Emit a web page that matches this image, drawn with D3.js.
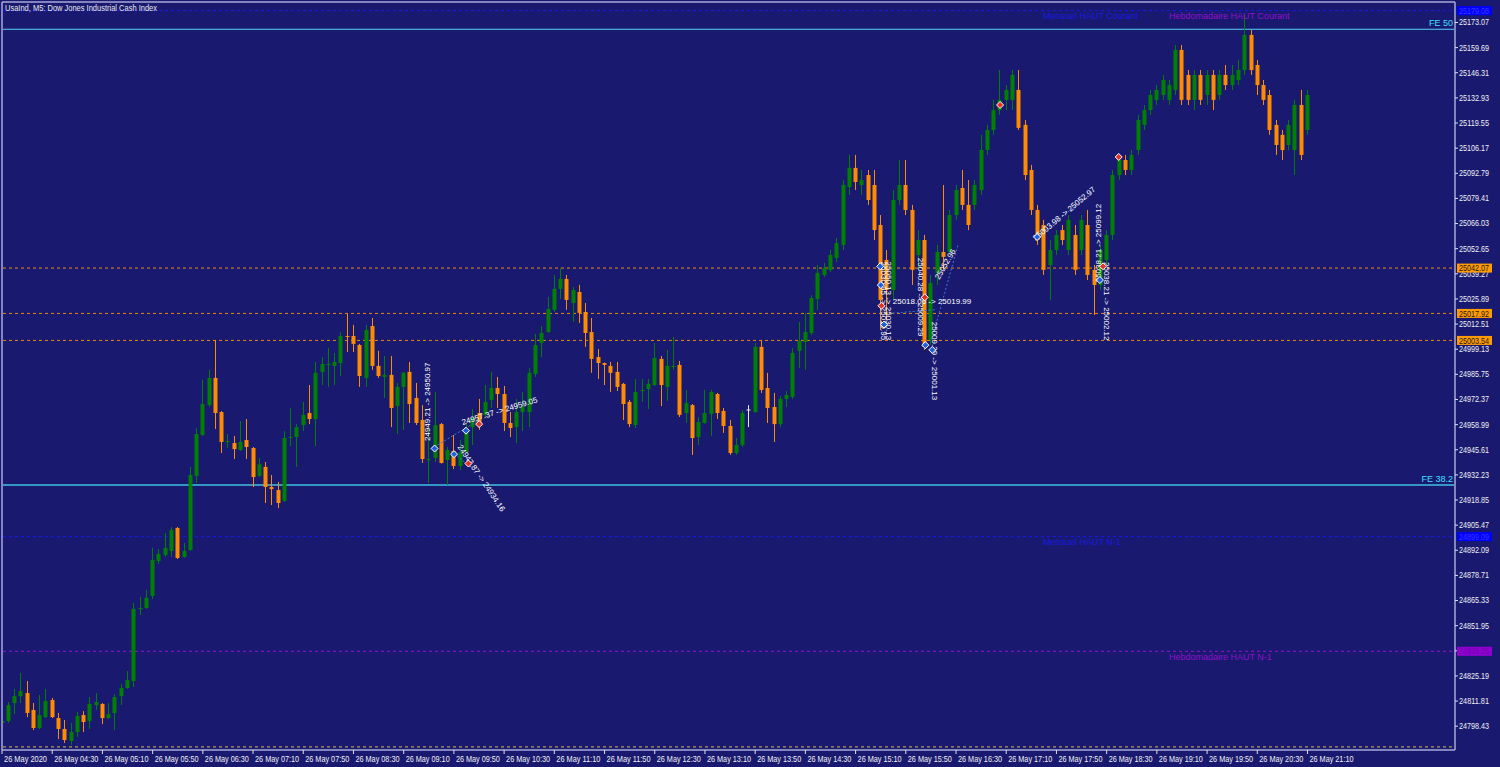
<!DOCTYPE html>
<html><head><meta charset="utf-8">
<script src="https://cdn.jsdelivr.net/npm/d3@7"></script>
<style>html,body{margin:0;padding:0;background:#191970;overflow:hidden}</style>
</head><body><svg id="c" width="1500" height="767"></svg>
<script>
// ---------- DATA ----------
const title = "UsaInd, M5:  Dow Jones Industrial Cash Index";
const xTickBars = [0,8,16,24,32,40,48,56,64,72,80,88,96,104,112,120,128,136,144,152,160,168,176,184,192,200,208];
const xTickLabels = ["26 May 2020","26 May 04:30","26 May 05:10","26 May 05:50","26 May 06:30","26 May 07:10","26 May 07:50","26 May 08:30","26 May 09:10","26 May 09:50","26 May 10:30","26 May 11:10","26 May 11:50","26 May 12:30","26 May 13:10","26 May 13:50","26 May 14:30","26 May 15:10","26 May 15:50","26 May 16:30","26 May 17:10","26 May 17:50","26 May 18:30","26 May 19:10","26 May 19:50","26 May 20:30","26 May 21:10"];
const yTickLabels = ["24798.43","24811.81","24825.19","24838.57","24851.95","24865.33","24878.71","24892.09","24905.47","24918.85","24932.23","24945.61","24958.99","24972.37","24985.75","24999.13","25012.51","25025.89","25039.27","25052.65","25066.03","25079.41","25092.79","25106.17","25119.55","25132.93","25146.31","25159.69","25173.07"];

const candles = [
[24799.9,24802.5,24798.8,24800.9],[24800.9,24811.0,24799.9,24809.4],[24810.5,24818.0,24804.6,24814.2],[24814.2,24826.5,24810.5,24816.9],
[24815.8,24822.2,24803.0,24805.2],[24806.8,24810.5,24796.1,24797.2],[24797.2,24814.8,24796.6,24804.1],[24803.0,24818.0,24802.5,24811.6],
[24812.1,24813.2,24802.5,24803.0],[24802.5,24805.2,24791.3,24796.7],[24796.7,24801.5,24789.2,24790.8],[24790.3,24799.9,24788.1,24795.1],
[24795.1,24805.7,24792.4,24803.6],[24804.1,24806.2,24795.1,24800.4],[24800.9,24813.7,24796.7,24810.0],[24809.4,24815.8,24806.8,24811.0],
[24810.0,24810.5,24799.3,24802.5],[24802.5,24810.5,24802.0,24804.6],[24805.2,24815.3,24796.1,24813.7],[24814.2,24820.6,24809.4,24818.5],
[24818.5,24827.5,24818.0,24822.7],[24822.2,24863.8,24819.0,24860.6],[24860.6,24867.0,24857.4,24861.1],[24861.1,24870.7,24860.6,24866.5],
[24867.5,24893.1,24865.9,24886.7],[24886.1,24892.5,24884.5,24889.9],[24889.3,24901.0,24888.3,24893.1],[24891.5,24904.2,24888.3,24902.7],
[24903.7,24904.2,24887.2,24887.7],[24888.3,24895.7,24887.8,24891.5],[24892.0,24936.2,24891.5,24931.9],[24931.4,24956.9,24927.6,24953.7],
[24953.2,24982.5,24952.6,24969.7],[24969.1,24987.9,24968.1,24983.6],[24983.6,25003.8,24956.4,24964.9],[24965.4,24965.9,24943.6,24949.5],
[24949.5,24953.7,24946.3,24950.0],[24948.9,24952.7,24940.4,24945.7],[24945.2,24960.6,24944.7,24949.5],[24950.5,24961.7,24940.4,24946.8],
[24946.3,24946.8,24925.5,24930.8],[24931.4,24941.0,24930.8,24937.6],[24936.2,24938.8,24917.0,24925.5],[24925.5,24931.9,24915.9,24924.4],
[24923.9,24928.2,24914.3,24917.0],[24918.1,24955.3,24917.6,24951.6],[24951.6,24967.6,24947.3,24952.1],[24952.1,24959.0,24936.2,24957.4],
[24958.5,24970.8,24955.3,24963.9],[24964.9,24979.8,24959.0,24961.7],[24961.7,24992.1,24947.2,24986.3],[24986.8,24994.7,24979.8,24991.0],
[24990.5,24999.5,24978.8,24991.0],[24990.0,24996.9,24979.8,24992.1],[24991.5,25008.0,24984.6,25005.9],[25005.9,25017.6,24997.4,25005.4],
[25005.9,25011.8,24997.4,25001.7],[25001.1,25001.7,24978.8,24984.6],[24983.6,25011.8,24978.8,25009.1],[25011.2,25015.5,24987.9,24990.0],
[24990.0,24998.0,24983.6,24984.6],[24984.1,24995.3,24972.9,24985.2],[24985.2,24995.3,24957.4,24967.6],[24968.6,24980.9,24953.7,24978.8],
[24978.8,24986.8,24955.9,24986.3],[24986.8,24992.1,24959.6,24969.7],[24972.9,24980.9,24958.5,24959.6],[24961.2,24969.1,24938.3,24940.4],
[24939.9,24957.4,24927.6,24940.4],[24941.0,24976.1,24938.8,24958.5],[24959.0,24959.6,24938.0,24938.3],[24939.9,24946.8,24926.6,24945.2],
[24944.7,24953.2,24935.1,24936.7],[24936.7,24950.5,24934.6,24944.1],[24944.1,24959.6,24943.6,24954.8],[24957.4,24967.0,24947.9,24962.2],
[24964.9,24972.4,24955.9,24959.6],[24963.9,24979.8,24962.2,24970.8],[24971.8,24986.8,24967.6,24978.2],[24978.2,24984.1,24967.6,24975.0],
[24975.0,24979.3,24955.3,24959.6],[24959.6,24965.4,24952.1,24956.9],[24957.4,24972.4,24948.9,24965.4],[24965.4,24976.1,24955.3,24968.1],
[24965.4,24988.9,24957.4,24986.3],[24985.7,25007.0,24984.1,25001.1],[25002.2,25011.2,24994.7,25007.5],[25008.0,25026.7,25007.5,25020.3],
[25019.8,25038.4,25018.7,25031.0],[25031.0,25042.1,25025.6,25036.3],[25036.3,25038.4,25019.8,25025.1],[25023.5,25032.0,25013.4,25030.4],
[25029.3,25033.1,25012.8,25018.2],[25018.7,25023.5,25000.1,25007.5],[25008.0,25015.5,24986.3,24993.7],[24994.7,24999.0,24983.0,24991.5],
[24991.5,24991.8,24979.8,24990.5],[24990.0,24992.1,24976.1,24986.3],[24986.8,24992.1,24976.6,24978.8],[24980.4,24980.9,24961.2,24969.7],
[24970.8,24971.8,24957.4,24959.0],[24958.5,24983.0,24956.9,24976.1],[24976.6,24983.0,24970.8,24977.2],[24977.7,24983.0,24967.0,24980.4],
[24979.8,25002.2,24979.3,24994.2],[24993.7,24995.3,24968.6,24979.8],[24978.8,24998.5,24971.3,24990.0],[24989.4,25005.4,24987.9,24990.0],
[24990.5,24992.6,24962.8,24963.9],[24964.9,24977.2,24959.6,24970.2],[24969.1,24969.7,24942.6,24951.6],[24952.1,24962.8,24947.9,24960.1],
[24959.6,24977.2,24959.2,24964.9],[24964.4,24977.2,24952.7,24976.1],[24975.0,24975.6,24961.7,24964.9],[24966.0,24967.6,24954.3,24958.0],
[24958.0,24961.2,24942.6,24943.6],[24943.6,24951.6,24942.6,24947.9],[24947.9,24966.5,24946.8,24964.9],[24966.5,24969.1,24957.4,24966.5],
[24965.4,25002.2,24965.0,25000.1],[25000.1,25003.8,24975.6,24977.2],[24978.2,24986.3,24959.6,24967.6],[24968.1,24975.6,24949.5,24959.0],
[24959.0,24974.0,24957.4,24972.4],[24972.4,24976.6,24968.1,24974.5],[24973.5,24999.5,24972.4,24996.9],[24998.0,25013.4,24988.9,25003.3],
[25002.7,25018.2,24987.9,25008.0],[25007.5,25027.7,25006.4,25026.1],[25025.6,25043.7,25019.8,25039.5],[25038.4,25044.8,25037.3,25042.1],
[25041.1,25051.7,25040.0,25049.0],[25047.4,25058.1,25045.3,25055.4],[25054.4,25089.0,25051.7,25086.3],[25085.2,25102.3,25081.0,25095.4],
[25095.4,25102.3,25083.6,25087.9],[25086.3,25094.3,25081.0,25088.9],[25091.6,25094.3,25075.7,25078.3],[25086.3,25094.3,25057.0,25062.3],
[25065.0,25070.3,25009.1,25025.1],[25046.4,25051.7,25014.4,25030.4],[25030.4,25083.6,25025.1,25078.3],[25078.3,25099.6,25075.7,25086.3],
[25086.3,25099.6,25070.3,25073.0],[25073.0,25075.7,25033.1,25041.1],[25049.0,25062.3,25041.1,25057.0],[25057.0,25059.7,24998.5,25000.1],
[25003.8,25038.4,25001.1,25034.1],[25039.5,25054.4,25033.1,25050.6],[25050.6,25086.3,25041.1,25048.0],[25050.6,25073.0,25049.0,25070.3],
[25070.3,25086.3,25067.7,25083.6],[25084.7,25094.3,25073.0,25075.7],[25075.7,25088.9,25062.3,25065.0],[25075.7,25088.9,25073.0,25086.3],
[25083.6,25113.0,25081.0,25104.9],[25104.9,25118.3,25102.3,25115.6],[25115.6,25131.6,25113.0,25126.2],[25126.2,25147.5,25123.6,25131.6],
[25131.6,25139.5,25126.2,25136.9],[25131.6,25147.5,25126.2,25144.9],[25136.9,25147.5,25115.6,25116.7],[25118.3,25120.9,25088.9,25091.6],
[25094.3,25097.0,25070.3,25073.0],[25073.0,25075.7,25054.4,25057.0],[25065.0,25067.7,25038.4,25041.1],[25043.7,25057.0,25025.1,25051.7],
[25051.7,25062.3,25049.0,25059.7],[25062.3,25065.0,25054.4,25057.0],[25051.7,25070.3,25049.0,25067.7],[25059.7,25065.0,25038.4,25041.1],
[25051.7,25070.3,25049.0,25067.7],[25065.0,25073.0,25035.7,25038.4],[25041.1,25043.7,25017.1,25033.1],[25033.1,25054.4,25030.4,25051.7],
[25046.4,25062.3,25043.7,25059.7],[25059.7,25094.3,25057.0,25091.6],[25091.6,25102.3,25088.9,25099.6],[25099.6,25102.3,25091.6,25094.3],
[25094.3,25104.9,25091.6,25102.3],[25104.9,25123.6,25102.3,25120.9],[25118.3,25128.9,25115.6,25126.2],[25126.2,25136.9,25123.6,25134.2],
[25131.6,25139.5,25128.9,25136.9],[25134.2,25144.9,25131.6,25142.2],[25131.6,25142.2,25128.9,25139.5],[25136.9,25160.8,25134.2,25158.2],
[25158.2,25160.8,25128.9,25131.6],[25144.9,25147.5,25128.9,25131.6],[25131.6,25147.5,25126.2,25144.9],[25144.9,25147.5,25128.9,25131.6],
[25134.2,25147.5,25128.9,25144.9],[25144.9,25147.5,25126.2,25131.6],[25134.2,25147.5,25131.6,25144.9],[25144.9,25150.2,25136.9,25139.5],
[25139.5,25150.2,25136.9,25144.9],[25142.2,25152.8,25139.5,25147.5],[25147.5,25176.8,25144.9,25166.2],[25166.2,25168.8,25144.9,25147.5],
[25150.2,25152.8,25134.2,25139.5],[25139.5,25142.2,25128.9,25131.6],[25134.2,25136.9,25113.0,25115.6],[25118.3,25120.9,25102.3,25107.6],
[25113.0,25115.6,25099.6,25104.9],[25107.6,25120.9,25104.9,25118.3],[25104.9,25131.6,25091.6,25128.9],[25128.9,25136.9,25099.6,25102.3],
[25115.6,25136.9,25113.0,25134.2]
];

// horizontal levels
const levelPrices = {mensuelCourant:25179.08, fe50:25169.2, orange:[25042.07,25017.92,25003.54], fe382:24926.6, mensuelN1:24899.09, hebdoN1:24838.05, bottom:24787.2};

// trade annotations: [text, bar, price, angle]
const tradeTexts = [
 ["24949.21 -> 24950.97", 68.3, 24950.0, -90],
 ["24947.87 -> 24934.16", 72.6, 24946.8, 56],
 ["24957.37 -> 24959.05", 73.5, 24958.5, -17],
 ["25030.95 -> 25019.95", 140.2, 25045.5, 90],
 ["25050.13 -> 25030.13", 141.0, 25045.5, 90],
 ["25018.06 -> 25019.99", 142.0, 25023.0, 0],
 ["25040.28 -> 25009.29", 146.1, 25047.5, 90],
 ["25009.29 -> 25001.13", 148.3, 25013.5, 90],
 ["25052.96", 149.4, 25035.7, -60],
 ["25003.98 -> 25052.97", 164.8, 25056.5, -40],
 ["25038.21 -> 25099.12", 175.2, 25034.5, -90],
 ["25038.21 -> 25002.12", 175.6, 25045.3, 90]
];
// trade arrow markers: [bar, price, kind]  kind: 0 buy (blue), 1 sell (red)
const tradeMarks = [[159.1,25128.9,1],[178.0,25101.2,1],[69.0,24946.0,0],[72.1,24943.0,0],[74.0,24955.5,0],[74.4,24938.0,1],[76.1,24959.0,1],
 [140.0,25043.0,0],[140.1,25033.0,0],[140.2,25022.0,1],[140.6,25012.0,0],[147.1,25026.5,1],[147.2,25001.0,0],[148.3,24998.5,0],[165.0,25058.6,0],[175.0,25035.7,0],[175.5,25043.0,1]];
// trade connecting lines: [bar1, price1, bar2, price2]
const tradeLines = [[68.9,24946.8,76.1,24961.2],[72.1,24943.6,74.3,24937.2],[142.0,25018.06,149.0,25019.99],[148.2,25003.8,152.4,25054.4],[165.0,25058.6,174.2,25083.6]];

// ---------- DRAW ----------
const svg = d3.select("#c");
const FONT = "'Liberation Sans', Arial, sans-serif";
svg.append("rect").attr("width",1500).attr("height",767).attr("fill","#191970");

const x = d3.scaleLinear().domain([0,208]).range([1.5,1307]);
const y = d3.scaleLinear().domain([24798.43,25173.07]).range([725.7,22]);

svg.append("defs").append("clipPath").attr("id","clip")
  .append("rect").attr("x",3).attr("y",3).attr("width",1451).attr("height",746);
const plot = svg.append("g").attr("clip-path","url(#clip)");

function hline(p, color, dash, w){
  plot.append("line").attr("x1",3).attr("x2",1455).attr("y1",y(p)).attr("y2",y(p))
   .attr("stroke",color).attr("stroke-width",w||1).attr("stroke-dasharray",dash||null);
}
hline(levelPrices.mensuelCourant,"#1818e8","3,3");
hline(levelPrices.fe50,"#5ad0f0",null,1.2);
levelPrices.orange.forEach(p=>hline(p,"#e88a10","3,3"));
hline(levelPrices.fe382,"#40c0e0",null,1.6);
hline(levelPrices.mensuelN1,"#1818e8","3,3");
hline(levelPrices.hebdoN1,"#9a10d0","3,3");
hline(levelPrices.bottom,"#b09a50","3,3",1.3);

const cg = plot.append("g");
candles.forEach((c,i)=>{
  const [o,h,l,cl]=c;
  const cx = Math.round(x(i))+0.5;
  const up = cl>o, doji = cl===o;
  const col = doji ? "#e8e8e8" : (up ? "#008000" : "#ff8c00");
  cg.append("line").attr("x1",cx).attr("x2",cx).attr("y1",y(h)).attr("y2",y(l)).attr("stroke",col).attr("stroke-width",1);
  const top = y(Math.max(o,cl)), bot = y(Math.min(o,cl));
  if (doji) {
    cg.append("line").attr("x1",cx-2).attr("x2",cx+2).attr("y1",top).attr("y2",top).attr("stroke",col);
  } else {
    cg.append("rect").attr("x",cx-2).attr("y",top).attr("width",4).attr("height",Math.max(1,bot-top)).attr("fill",col);
  }
});

const lt = plot.append("g").attr("font-family",FONT).attr("font-size",9);
lt.append("text").attr("x",1043).attr("y",y(levelPrices.mensuelCourant)+8.5).attr("fill","#1a1ae0").text("Mensuel HAUT Courant");
lt.append("text").attr("x",1169).attr("y",y(levelPrices.mensuelCourant)+8.5).attr("fill","#9010c8").text("Hebdomadaire HAUT Courant");
lt.append("text").attr("x",1043).attr("y",y(levelPrices.mensuelN1)+8).attr("fill","#1a1ae0").text("Mensuel HAUT N-1");
lt.append("text").attr("x",1169).attr("y",y(levelPrices.hebdoN1)+8.5).attr("fill","#9010c8").text("Hebdomadaire HAUT N-1");
lt.append("text").attr("x",1453).attr("y",y(levelPrices.fe50)-3).attr("text-anchor","end").attr("fill","#40e0ff").text("FE 50");
lt.append("text").attr("x",1453).attr("y",y(levelPrices.fe382)-3).attr("text-anchor","end").attr("fill","#40e0ff").text("FE 38.2");

tradeLines.forEach(l=>{
  plot.append("line").attr("x1",x(l[0])).attr("y1",y(l[1])).attr("x2",x(l[2])).attr("y2",y(l[3]))
    .attr("stroke","#3a78e0").attr("stroke-width",1).attr("stroke-dasharray","2,2");
});
tradeTexts.forEach(t=>{
  plot.append("text").attr("transform",`translate(${x(t[1])},${y(t[2])}) rotate(${t[3]})`)
   .attr("font-family",FONT).attr("font-size",8).attr("fill","#ffffff").text(t[0]);
});
tradeMarks.forEach(m=>{
  const px=x(m[0]), py=y(m[1]);
  plot.append("path").attr("d",`M${px},${py-3.5}L${px+3.5},${py}L${px},${py+3.5}L${px-3.5},${py}Z`)
    .attr("fill",m[2]?"#e83020":"#2060e0").attr("stroke","#ffffff").attr("stroke-width",1);
});

svg.append("line").attr("x1",2).attr("x2",1455).attr("y1",2).attr("y2",2).attr("stroke","#a8a8d8").attr("stroke-width",1.5);
svg.append("line").attr("x1",2).attr("x2",2).attr("y1",2).attr("y2",750).attr("stroke","#a8a8d8").attr("stroke-width",1.5);

const ya = d3.axisRight(y).tickValues(yTickLabels.map(Number)).tickSize(3).tickFormat((d,i)=>yTickLabels[i]);
const yg = svg.append("g").attr("transform","translate(1455,0)").call(ya);
yg.select(".domain").attr("stroke","#a8a8d8").attr("stroke-width",1.5).attr("d","M0,2V750");
yg.selectAll(".tick line").attr("stroke","#e0e0e0");
yg.selectAll(".tick text").attr("fill","#f0f0f0").attr("font-family",FONT).attr("font-size",9).attr("x",4)
  .attr("textLength",30).attr("lengthAdjust","spacingAndGlyphs");

const xa = d3.axisBottom(x).tickValues(xTickBars).tickSize(4).tickFormat((d,i)=>xTickLabels[i]);
const xg = svg.append("g").attr("transform","translate(0,750)").call(xa);
xg.select(".domain").attr("stroke","#a8a8d8").attr("stroke-width",1.5).attr("d","M2,0H1455");
xg.selectAll(".tick line").attr("stroke","#e0e0e0");
xg.selectAll(".tick text").attr("fill","#f0f0f0").attr("font-family",FONT).attr("font-size",9)
  .attr("text-anchor","start").attr("x",2).attr("y",6).attr("textLength",(d,i)=>i===0?43:44).attr("lengthAdjust","spacingAndGlyphs");

function box(p, fill, tcol){
  const yy = y(p);
  svg.append("rect").attr("x",1457).attr("y",yy-4.5).attr("width",35).attr("height",9).attr("fill",fill);
  svg.append("text").attr("x",1459).attr("y",yy+3.2).attr("fill",tcol).attr("font-family",FONT).attr("font-size",9)
    .attr("textLength",30).attr("lengthAdjust","spacingAndGlyphs").text(p.toFixed(2));
}
box(levelPrices.mensuelCourant,"#0000ff","#3838ff");
levelPrices.orange.forEach(p=>box(p,"#ff9a00","#202020"));
box(levelPrices.mensuelN1,"#0000ff","#3838ff");
box(levelPrices.hebdoN1,"#9400d3","#7000a8");

svg.append("text").attr("x",5).attr("y",10.5).attr("fill","#e8e8e8").attr("font-family",FONT).attr("font-size",9)
  .attr("textLength",152).attr("lengthAdjust","spacingAndGlyphs").text(title);
</script></body></html>
